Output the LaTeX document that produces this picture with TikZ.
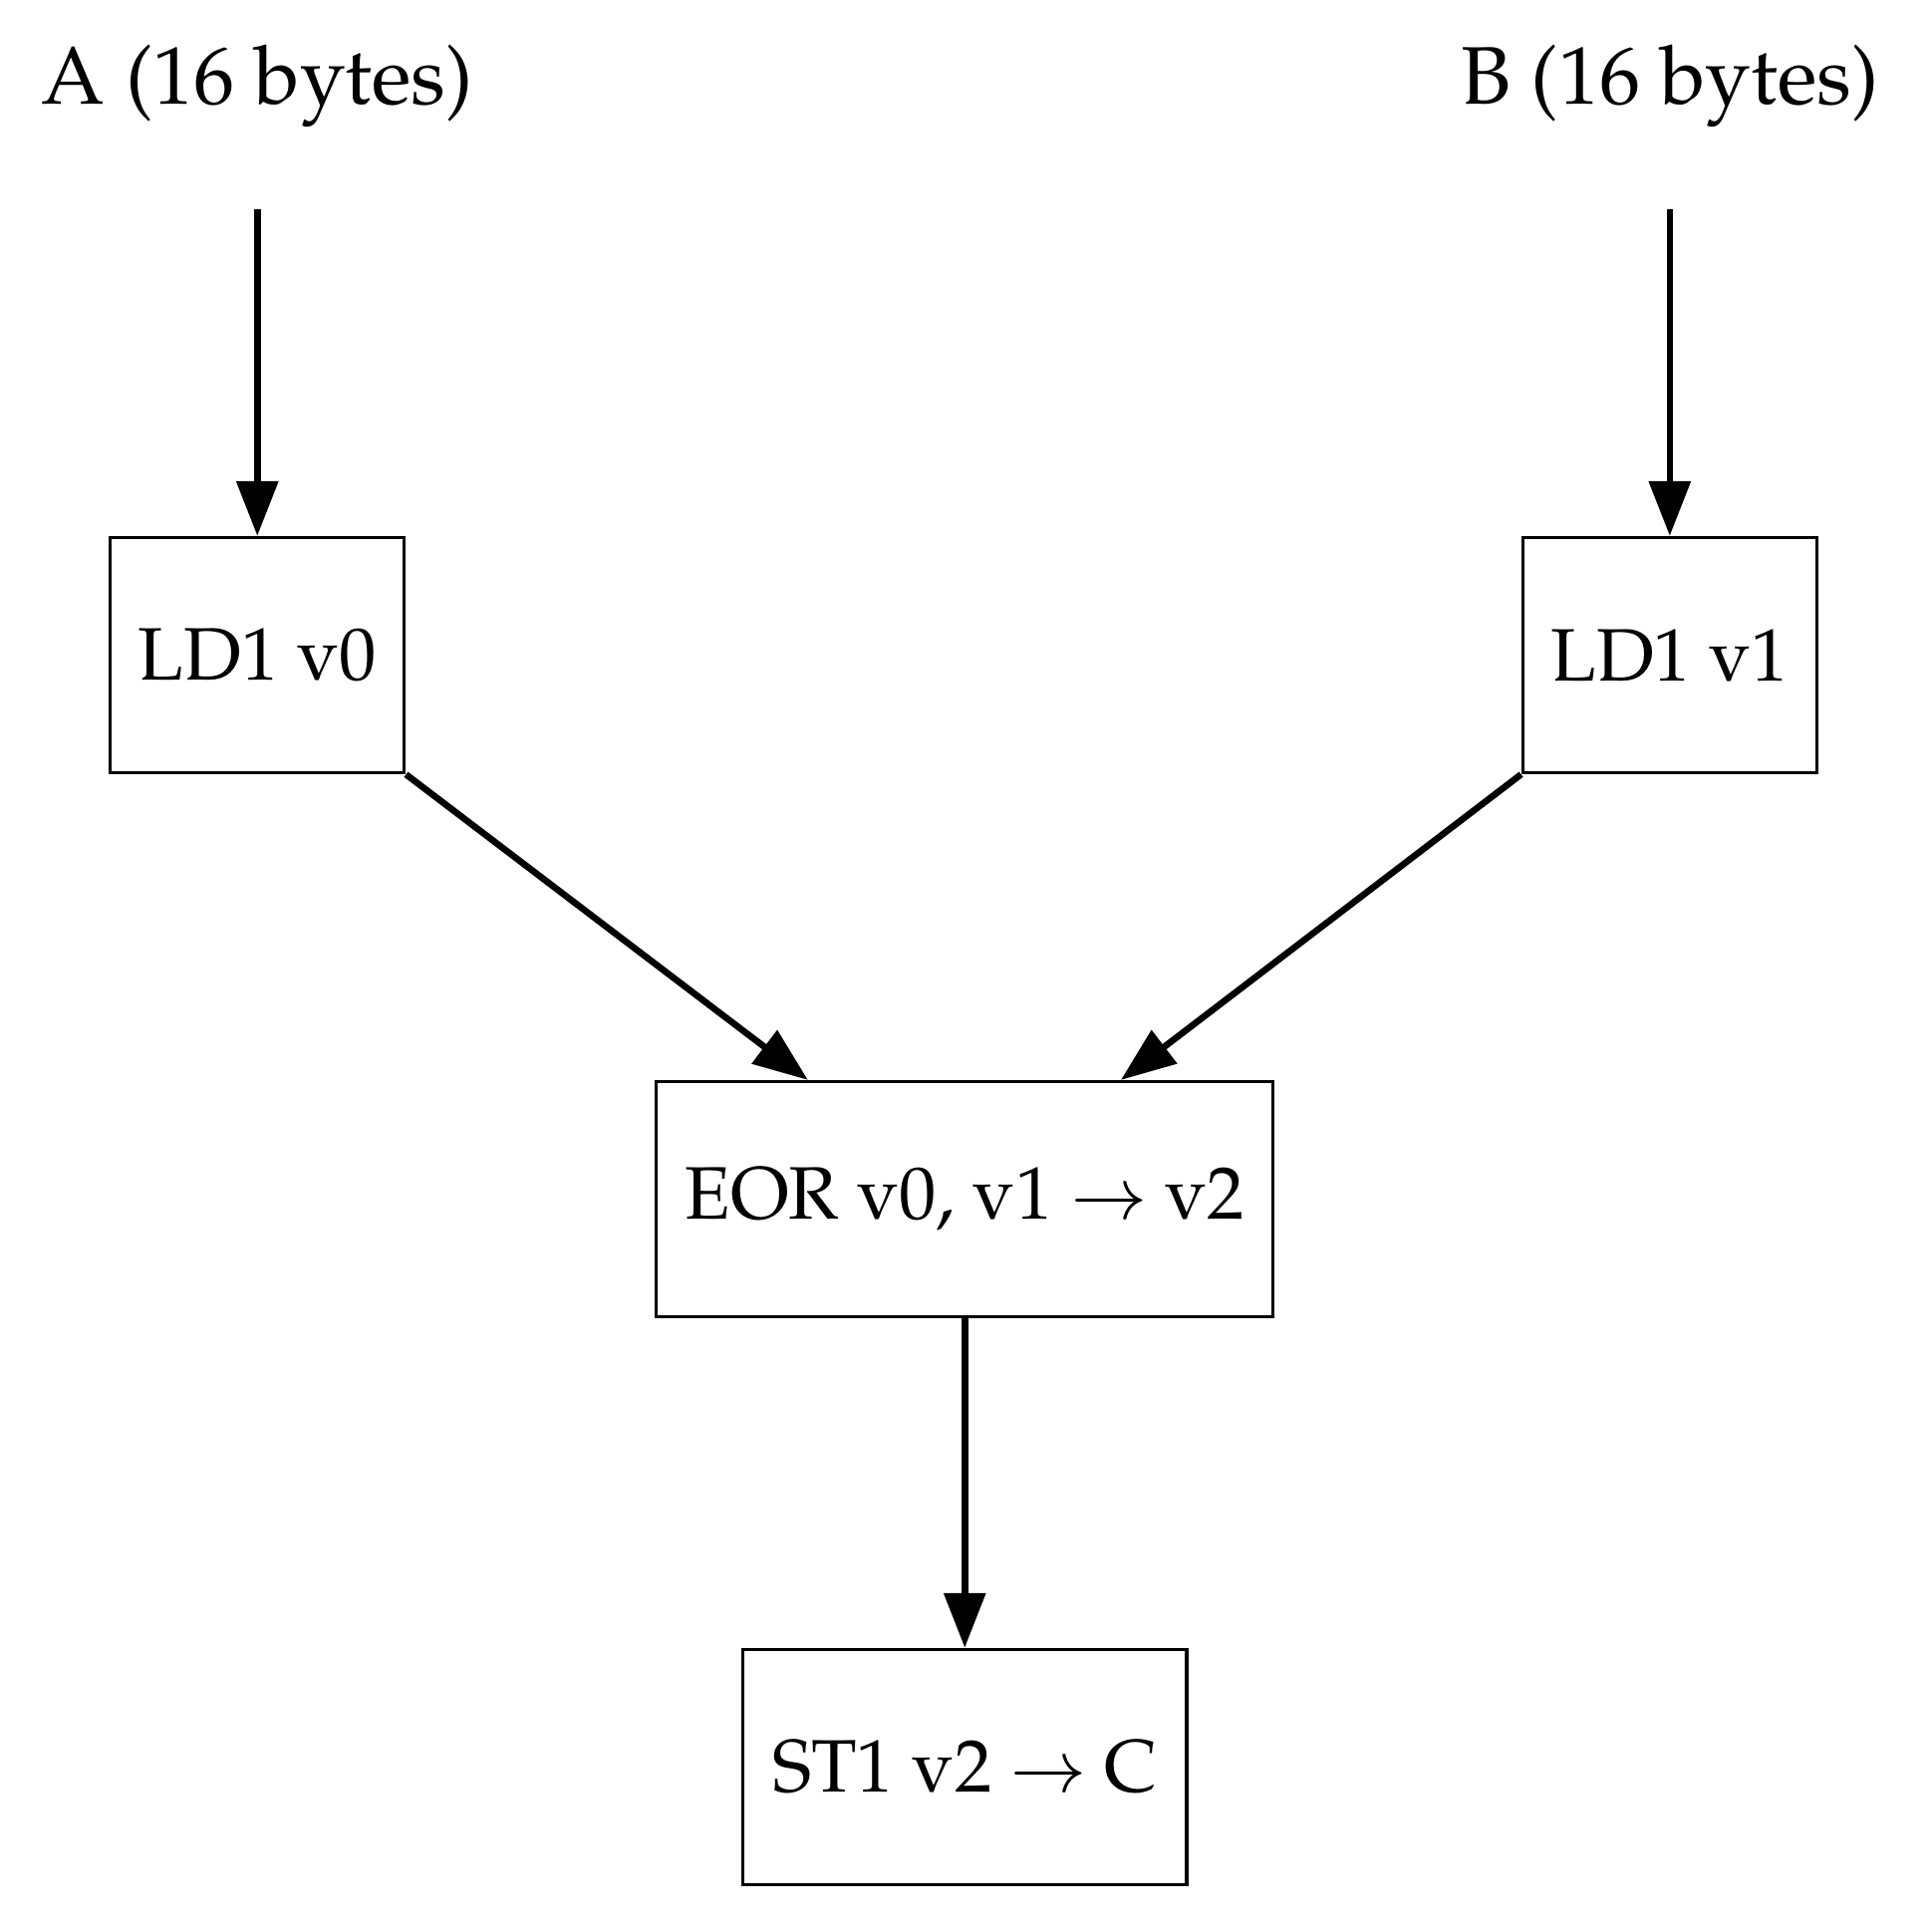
\documentclass[tikz,border=0pt]{standalone}
\usepackage[T1]{fontenc}
\usepackage{palatino}
\usepackage{tikz}
\usetikzlibrary{arrows.meta}

\begin{document}
\begin{tikzpicture}[x=1pt, y=1pt,
        box/.style={draw, line width=0.4pt, minimum height=28.8pt, inner sep=2pt,
            font=\fontsize{9.1}{11}\selectfont},
        flow/.style={line width=0.8pt, -{Stealth[inset=0pt, length=6.7pt, width=5pt]}}]
        \useasboundingbox (0, 0) rectangle (236.3, 236.5);

        \coordinate (PA) at (31.5, 223.7);
        \coordinate (PB) at (204.4, 223.7);

        \node[anchor=base] (A) at (PA) {A (16 bytes)};
        \node[anchor=base] (B) at (PB) {B (16 bytes)};

        \node[box, minimum width=36pt] (ld0) at (31.5, 156.3) {LD1 v0};
        \node[box, minimum width=36pt] (ld1) at (204.4, 156.3) {LD1 v1};
        \node[box, minimum width=75.5pt] (eor) at (118.1, 89.7) {EOR v0, v1 $\rightarrow$ v2};
        \node[box, minimum width=54.3pt] (st1) at (118.1, 20.2) {ST1 v2 $\rightarrow$ C};

        \draw[flow, shorten <=6.4pt] (A) -- (ld0);
        \draw[flow, shorten <=6.4pt] (B) -- (ld1);
        \draw[flow] (ld0.south east) -- (eor);
        \draw[flow] (ld1.south west) -- (eor);
        \draw[flow] (eor) -- (st1);
        \end{tikzpicture}
\end{document}
